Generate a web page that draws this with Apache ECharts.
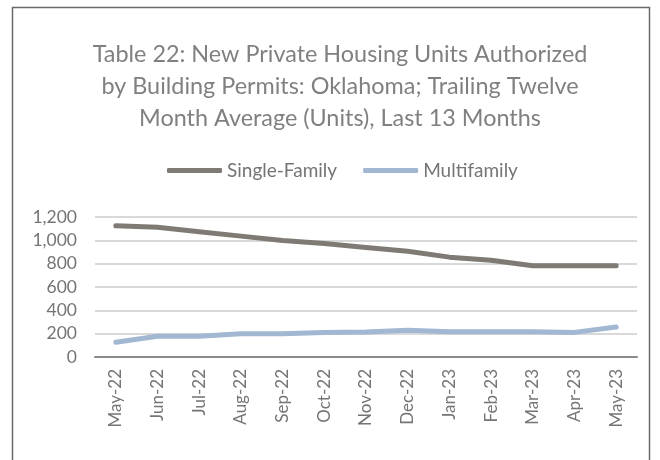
<!doctype html>
<html lang="en">
<head>
    <meta charset="UTF-8">
    <title>Table 22 - Oklahoma Building Permits</title>
    <script src="https://cdn.jsdelivr.net/npm/echarts@6/dist/echarts.min.js"></script>
    <style>
        html, body { margin: 0; padding: 0; background: #fff; }
        #main { width: 660px; height: 460px; }
    </style>
</head>
<body>
<div id="main"></div>
<script type="text/javascript">
    // months on the x axis
    var months = ['May-22', 'Jun-22', 'Jul-22', 'Aug-22', 'Sep-22', 'Oct-22', 'Nov-22',
        'Dec-22', 'Jan-23', 'Feb-23', 'Mar-23', 'Apr-23', 'May-23'];
    // trailing twelve month averages (units)
    var singleFamily = [1125, 1112, 1074, 1036, 999, 972, 938, 907, 856, 829, 783, 783, 783];
    var multifamily = [126, 178, 178, 200, 200, 210, 215, 229, 217, 217, 217, 211, 257];
    var yTicks = [0, 200, 400, 600, 800, 1000, 1200];

    var font = 'Lato, "Liberation Sans", sans-serif';
    var titleText = 'Table 22: New Private Housing Units Authorized\nby Building Permits: Oklahoma; Trailing Twelve\nMonth Average (Units), Last 13 Months';
    var myChart = echarts.init(document.getElementById('main'));

    var option = {
        backgroundColor: '#ffffff',
        animation: false,
        textStyle: {fontFamily: font},
        legend: {
            top: 161,
            left: 167,
            padding: 0,
            icon: 'roundRect',
            itemWidth: 55,
            itemHeight: 5,
            itemGap: 26,
            textStyle: {fontFamily: font, fontSize: 19, color: '#757575'},
            data: ['Single-Family', 'Multifamily']
        },
        grid: {left: 95, right: 23, top: 217, bottom: 103},
        xAxis: {
            type: 'category',
            data: months,
            boundaryGap: true,
            axisTick: {show: false},
            axisLine: {lineStyle: {color: '#898989', width: 2}},
            axisLabel: {rotate: 90, fontSize: 17, color: '#757575', margin: 12, fontFamily: font}
        },
        yAxis: {
            type: 'value',
            min: yTicks[0],
            max: yTicks[yTicks.length - 1],
            interval: 200,
            axisLine: {show: false},
            axisTick: {show: false},
            splitLine: {lineStyle: {color: '#d9d9d9', width: 2}},
            axisLabel: {
                fontSize: 17.5,
                color: '#757575',
                margin: 18,
                fontFamily: font,
                formatter: function (v) {
                    return v.toLocaleString('en-US');
                }
            }
        },
        graphic: [
            {
                type: 'rect',
                shape: {x: 12.5, y: 7.5, width: 637, height: 470},
                style: {fill: 'none', stroke: '#6b6b6b', lineWidth: 1.5},
                silent: true
            },
            {
                // title, centred a little right of the page middle like the original
                type: 'text',
                x: 340,
                y: 38,
                silent: true,
                style: {
                    text: titleText,
                    align: 'center',
                    verticalAlign: 'top',
                    fontFamily: font,
                    fontSize: 23.4,
                    lineHeight: 32,
                    fill: '#808080'
                }
            }
        ],
        series: [
            {
                name: 'Single-Family',
                type: 'line',
                data: singleFamily,
                showSymbol: false,
                color: '#7f7b74',
                lineStyle: {width: 5, color: '#7f7b74', cap: 'round', join: 'round'}
            },
            {
                name: 'Multifamily',
                type: 'line',
                data: multifamily,
                showSymbol: false,
                color: '#a2b7d2',
                lineStyle: {width: 5, color: '#a2b7d2', cap: 'round', join: 'round'}
            }
        ]
    };

    myChart.setOption(option);
</script>
</body>
</html>
